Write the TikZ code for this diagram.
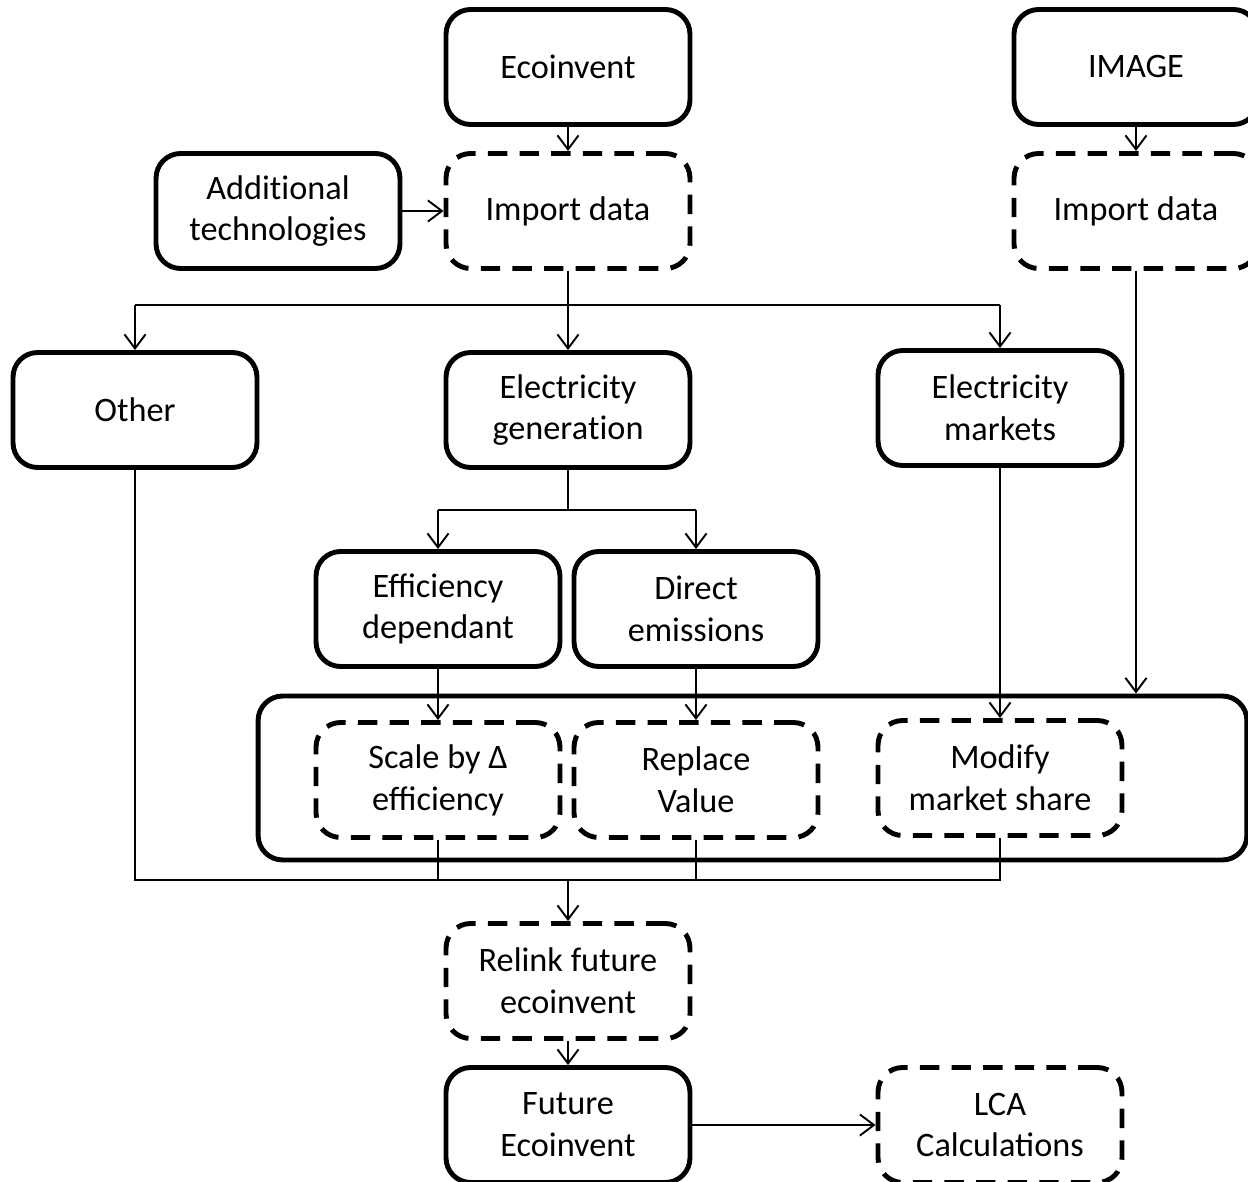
\documentclass[tikz,border=0pt]{standalone}
\usepackage{fontspec}
\setmainfont{Carlito}
\usetikzlibrary{arrows,arrows.meta,shapes}

\tikzset{
  box/.style={draw,line width=2.8pt,rounded corners=14pt,minimum width=4.88cm,minimum height=2.3cm,
    align=center,font=\fontsize{19.5}{23.8}\selectfont,inner sep=2pt},
  dbox/.style={box,dash pattern=on 11pt off 7pt},
  bigbox/.style={draw,line width=2.8pt,rounded corners=14pt,minimum width=19.78cm,minimum height=3.28cm},
  link/.style={line width=1.1pt},
  arr/.style={link,-{Straight Barb[length=8pt,width=12pt,line width=1.1pt]}}
}

\begin{document}
\begin{tikzpicture}[x=0.02cm,y=-0.02cm]
\useasboundingbox (0,0) rectangle (1248,1182);
% container first, boxes on top
\node[bigbox] (frame) at (752.5,778) {};

\node[box] (ecoinvent) at (568,67) {Ecoinvent};
\node[box] (image) at (1136,67) {IMAGE};
\node[box] (addtech) at (278,211) {Addi\hbox{t}ional\\technologies};
\node[dbox] (import) at (568,211) {Import data};
\node[dbox] (importimg) at (1136,211) {Import data};
\node[box] (other) at (135,410) {Other};
\node[box] (elgen) at (568,410) {Electricity\\genera\hbox{t}ion};
\node[box] (elmarket) at (1000,408) {Electricity\\markets};
\node[box] (effdep) at (438,609) {Efficiency\\dependant};
\node[box] (direct) at (696,609) {Direct\\emissions};
\node[dbox] (scale) at (438,780) {Scale by Δ\\efficiency};
\node[dbox] (replace) at (696,780) {Replace\\Value};
\node[dbox] (share) at (1000,778) {Modify\\market share};
\node[dbox] (relink) at (568,981) {Relink future\\ecoinvent};
\node[box] (future) at (568,1125) {Future\\Ecoinvent};
\node[dbox] (lca) at (1000,1125) {LCA\\Calculations};

\coordinate (top split) at (568,305);
\coordinate (gen split) at (568,510);
\coordinate (merge) at (568,880);

% inputs
\draw[arr] (ecoinvent) -- (import);
\draw[arr] (image) -- (importimg);
\draw[arr] (addtech) -- (import);

% first split
\draw[arr] (import) -- (elgen);
\draw[link] (other.north |- top split) -- (elmarket.north |- top split);
\draw[arr] (other.north |- top split) -- (other.north);
\draw[arr] (elmarket.north |- top split) -- (elmarket.north);

% generation split
\draw[link] (elgen.south) -- (gen split);
\draw[link] (effdep.north |- gen split) -- (direct.north |- gen split);
\draw[arr] (effdep.north |- gen split) -- (effdep.north);
\draw[arr] (direct.north |- gen split) -- (direct.north);

% into the modifications
\draw[arr] (effdep) -- (scale);
\draw[arr] (direct) -- (replace);
\draw[arr] (elmarket) -- (share);
\draw[arr] (importimg.south) -- (importimg.south |- frame.north);

% merge
\draw[link] (other.south) -- (other.south |- merge) -- (share.south |- merge) -- (share.south);
\draw[link] (scale.south) -- (scale.south |- merge);
\draw[link] (replace.south) -- (replace.south |- merge);
\draw[arr] (merge) -- (relink.north);
\draw[arr] (relink) -- (future);
\draw[arr] (future) -- (lca);
\end{tikzpicture}
\end{document}
